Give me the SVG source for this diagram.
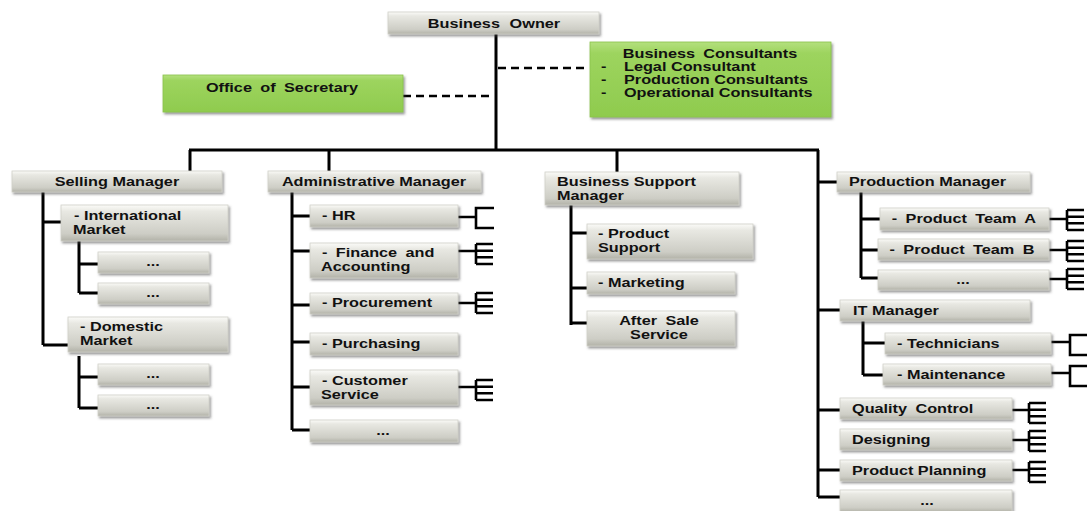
<svg xmlns="http://www.w3.org/2000/svg" xmlns:xlink="http://www.w3.org/1999/xlink" width="1087" height="511" viewBox="0 0 1087 511">
  <style>
    .box { fill: url(#grey); stroke: #d0d0c8; stroke-width: 0.8; filter: url(#shadow); }
    .green { fill: url(#lime); stroke: #8ac24c; stroke-width: 0.8; filter: url(#shadow); }
    .t { font-family: "Liberation Sans", Arial, sans-serif; font-weight: bold; font-size: 12.6px; fill: #111; transform-box: fill-box; transform: scaleX(1.29); }
    .c { text-anchor: middle; transform-origin: center; }
    .l { transform-origin: left; }
    .ln { fill: none; stroke: #000; stroke-width: 3; }
    .dash { fill: none; stroke: #000; stroke-width: 2.5; stroke-dasharray: 8 5; }
    .fork { fill: none; stroke: #000; stroke-width: 2.6; }
  </style>
  <defs>
    <linearGradient id="grey" x1="0" y1="0" x2="0" y2="1">
      <stop offset="0" stop-color="#fbfbf8"/>
      <stop offset="0.18" stop-color="#e8e8e2"/>
      <stop offset="0.8" stop-color="#cdcdc5"/>
      <stop offset="1" stop-color="#b2b2a8"/>
    </linearGradient>
    <linearGradient id="lime" x1="0" y1="0" x2="0" y2="1">
      <stop offset="0" stop-color="#b4e07e"/>
      <stop offset="0.15" stop-color="#9dd45e"/>
      <stop offset="1" stop-color="#8fcb4e"/>
    </linearGradient>
    <filter id="shadow" x="-5%" y="-20%" width="115%" height="160%">
      <feDropShadow dx="1.5" dy="2" stdDeviation="1.3" flood-color="#444" flood-opacity="0.55"/>
    </filter>
    <!-- crow's-foot fork: spine plus four prongs -->
    <path id="crow" class="fork" d="M0 0V20M0 0H17M0 6.7H17M0 13.3H17M0 20H17"/>
    <!-- open bracket: spine plus two prongs -->
    <path id="brk" class="fork" d="M18 0H0V20H18"/>
  </defs>

  <g id="connectors">
    <!-- trunk and top bus -->
    <path class="ln" d="M496 34V150M189 150H819M190 150V171M329 150V171M617 150V172M818 150V497"/>
    <path class="dash" d="M498 68H589M403 96H490"/>
    <!-- selling -->
    <path class="ln" d="M43 192V345M43 222H61M43 345H68M79 241V293M79 264H98M79 293H98M79 356V408M79 377H98M79 408H98"/>
    <!-- administrative -->
    <path class="ln" d="M292 192V430M292 216H310M292 251H310M292 305H310M292 342H310M292 387H310M292 430H310"/>
    <path class="ln" d="M458 217H476M458 251H476M458 303H476M458 387H476" style="stroke-width:2.6"/>
    <!-- business support -->
    <path class="ln" d="M571 205V325M571 233H587M571 288H587M571 323H587"/>
    <!-- production / IT / others -->
    <path class="ln" d="M818 182H837M861 192V278M861 219H880M861 250H878M861 278H878M818 310H840M863 321V375M863 343H885M863 375H883M818 410H840M818 470H840M818 497H840"/>
    <path class="ln" d="M1049 219H1067M1049 250H1067M1049 279H1067M1051 342H1070M1051 373H1070M1012 410H1029M1012 440H1029M1012 470H1029" style="stroke-width:2.6"/>
    <!-- forks -->
    <use href="#brk" x="476" y="208"/>
    <use href="#crow" x="476" y="244"/>
    <use href="#crow" x="476" y="293"/>
    <use href="#crow" x="476" y="380"/>
    <use href="#crow" x="1067" y="210"/>
    <use href="#crow" x="1067" y="241"/>
    <use href="#crow" x="1067" y="269"/>
    <use href="#brk" x="1070" y="335"/>
    <use href="#brk" x="1070" y="366"/>
    <use href="#crow" x="1029" y="403"/>
    <use href="#crow" x="1029" y="431"/>
    <use href="#crow" x="1029" y="462"/>
  </g>

  <g id="owner"><rect class="box" x="388" y="12" width="211" height="22"/><text class="t c" x="494" y="28" style="word-spacing:4px">Business Owner</text></g>
  <g id="consultants"><rect class="green" x="590" y="42" width="241" height="75"/>
    <text class="t c" x="710" y="58" style="word-spacing:3px">Business Consultants</text>
    <text class="t l" x="601" y="71">-</text><text class="t l" x="624" y="71">Legal Consultant</text>
    <text class="t l" x="601" y="84">-</text><text class="t l" x="624" y="84">Production Consultants</text>
    <text class="t l" x="601" y="97">-</text><text class="t l" x="624" y="97">Operational Consultants</text>
  </g>
  <g id="secretary"><rect class="green" x="163" y="75" width="240" height="37"/><text class="t c" x="282" y="92" style="word-spacing:3px">Office of Secretary</text></g>

  <!-- selling branch -->
  <g id="selling-manager"><rect class="box" x="12" y="171" width="210" height="21"/><text class="t c" x="117" y="186">Selling Manager</text></g>
  <g id="international"><rect class="box" x="61" y="205" width="167" height="36"/><text class="t l" x="74" y="220">- International</text><text class="t l" x="73" y="234">Market</text></g>
  <g id="intl-1"><rect class="box" x="98" y="252" width="111" height="21"/><text class="t c" x="153" y="266">...</text></g>
  <g id="intl-2"><rect class="box" x="98" y="283" width="111" height="21"/><text class="t c" x="153" y="297">...</text></g>
  <g id="domestic"><rect class="box" x="68" y="317" width="160" height="35"/><text class="t l" x="80" y="331">- Domestic</text><text class="t l" x="80" y="345">Market</text></g>
  <g id="dom-1"><rect class="box" x="98" y="364" width="111" height="21"/><text class="t c" x="153" y="378">...</text></g>
  <g id="dom-2"><rect class="box" x="98" y="395" width="111" height="21"/><text class="t c" x="153" y="409">...</text></g>

  <!-- administrative branch -->
  <g id="admin-manager"><rect class="box" x="268" y="171" width="213" height="21"/><text class="t c" x="374" y="186">Administrative Manager</text></g>
  <g id="hr"><rect class="box" x="310" y="205" width="148" height="22"/><text class="t l" x="322" y="220">- HR</text></g>
  <g id="finance"><rect class="box" x="310" y="243" width="148" height="35"/><text class="t l" x="322" y="257" style="word-spacing:3px">- Finance and</text><text class="t l" x="321" y="271">Accounting</text></g>
  <g id="procurement"><rect class="box" x="310" y="293" width="148" height="21"/><text class="t l" x="322" y="307">- Procurement</text></g>
  <g id="purchasing"><rect class="box" x="310" y="333" width="148" height="22"/><text class="t l" x="322" y="348">- Purchasing</text></g>
  <g id="customer"><rect class="box" x="310" y="370" width="148" height="35"/><text class="t l" x="322" y="385">- Customer</text><text class="t l" x="321" y="399">Service</text></g>
  <g id="admin-more"><rect class="box" x="310" y="420" width="148" height="22"/><text class="t c" x="383" y="435">...</text></g>

  <!-- business support branch -->
  <g id="support-manager"><rect class="box" x="545" y="172" width="194" height="33"/><text class="t l" x="557" y="186">Business Support</text><text class="t l" x="557" y="200">Manager</text></g>
  <g id="product-support"><rect class="box" x="587" y="224" width="166" height="35"/><text class="t l" x="598" y="238">- Product</text><text class="t l" x="598" y="252">Support</text></g>
  <g id="marketing"><rect class="box" x="587" y="272" width="148" height="22"/><text class="t l" x="598" y="287">- Marketing</text></g>
  <g id="after-sale"><rect class="box" x="587" y="311" width="148" height="35"/><text class="t c" x="659" y="325" style="word-spacing:3px">After Sale</text><text class="t c" x="659" y="339">Service</text></g>

  <!-- production / IT branch -->
  <g id="production-manager"><rect class="box" x="837" y="172" width="193" height="20"/><text class="t l" x="849" y="186">Production Manager</text></g>
  <g id="team-a"><rect class="box" x="880" y="208" width="169" height="22"/><text class="t c" x="964" y="223" style="word-spacing:3px">- Product Team A</text></g>
  <g id="team-b"><rect class="box" x="878" y="239" width="171" height="21"/><text class="t c" x="962" y="254" style="word-spacing:3px">- Product Team B</text></g>
  <g id="team-more"><rect class="box" x="878" y="270" width="171" height="20"/><text class="t c" x="963" y="284">...</text></g>
  <g id="it-manager"><rect class="box" x="840" y="300" width="190" height="21"/><text class="t l" x="853" y="315">IT Manager</text></g>
  <g id="technicians"><rect class="box" x="885" y="333" width="166" height="21"/><text class="t l" x="897" y="348">- Technicians</text></g>
  <g id="maintenance"><rect class="box" x="883" y="364" width="168" height="21"/><text class="t l" x="897" y="379">- Maintenance</text></g>
  <g id="quality"><rect class="box" x="840" y="398" width="172" height="21"/><text class="t l" x="852" y="413" style="word-spacing:3px">Quality Control</text></g>
  <g id="designing"><rect class="box" x="840" y="429" width="172" height="21"/><text class="t l" x="852" y="444">Designing</text></g>
  <g id="planning"><rect class="box" x="840" y="460" width="172" height="21"/><text class="t l" x="852" y="475">Product Planning</text></g>
  <g id="other-more"><rect class="box" x="840" y="490" width="172" height="22"/><text class="t c" x="927" y="505">...</text></g>
</svg>
